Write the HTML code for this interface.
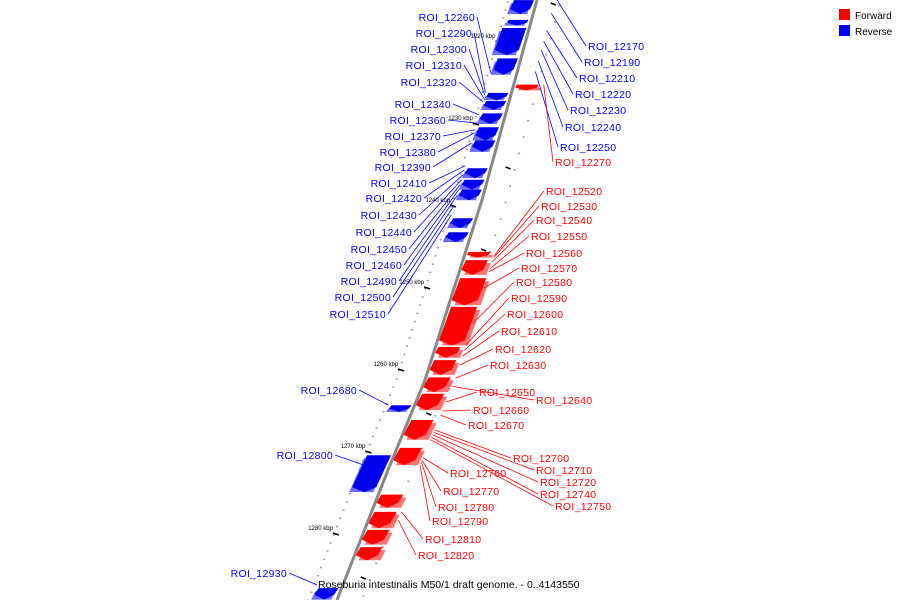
<!DOCTYPE html>
<html><head><meta charset="utf-8"><style>
html,body{margin:0;padding:0;background:#fff;}
svg{display:block;font-family:"Liberation Sans",sans-serif;}
</style></head><body>
<svg id="chart" width="900" height="600" viewBox="0 0 900 600">
<g id="ticks"></g>
<g id="feats"></g>
<polyline id="backbone" fill="none" stroke="#888" stroke-width="3"></polyline>
<g id="links"></g>
<g id="labels"></g>
<text x="318" y="588" font-size="10.5" fill="#000">Roseburia intestinalis M50/1 draft genome. - 0..4143550</text>
<g>
<rect x="839" y="9" width="11" height="11" fill="#f00"/>
<text x="855" y="19" font-size="10" fill="#000">Forward</text>
<rect x="839" y="25" width="11" height="11" fill="#00f"/>
<text x="855" y="35" font-size="10" fill="#000">Reverse</text>
</g>
</svg>
<script>
const tickKbp=[1220,1230,1240,1250,1260,1270,1280];
const featStart=[1214.9,1217.3,1218.3,1222.0,1226.2,1227.2,1228.7,1230.4,1232.0,1235.4,1236.8,1238.0,1241.5,1243.2,1264.3,1270.4,1286.6,
 1225.2,1245.6,1246.6,1248.8,1252.3,1257.2,1258.8,1260.9,1262.9,1266.1,1269.5,1275.2,1277.3,1279.5,1281.6];
const featEnd=[1216.6,1218.0,1221.6,1224.0,1227.1,1228.3,1230.0,1232.0,1233.4,1236.6,1238.0,1239.3,1242.7,1244.4,1265.1,1274.9,1288.0,
 1225.9,1246.3,1248.4,1252.1,1257.0,1258.5,1260.6,1262.7,1264.9,1268.5,1271.6,1276.8,1279.3,1281.3,1283.2];
const featStrand=[-1,-1,-1,-1,-1,-1,-1,-1,-1,-1,-1,-1,-1,-1,-1,-1,-1,
 1,1,1,1,1,1,1,1,1,1,1,1,1,1,1];
const labelNames=["ROI_12260","ROI_12290","ROI_12300","ROI_12310","ROI_12320","ROI_12340","ROI_12360","ROI_12370","ROI_12380","ROI_12390","ROI_12410","ROI_12420","ROI_12430","ROI_12440","ROI_12450","ROI_12460","ROI_12490","ROI_12500","ROI_12510","ROI_12680","ROI_12800","ROI_12930",
"ROI_12170","ROI_12190","ROI_12210","ROI_12220","ROI_12230","ROI_12240","ROI_12250","ROI_12270",
"ROI_12520","ROI_12530","ROI_12540","ROI_12550","ROI_12560","ROI_12570","ROI_12580","ROI_12590","ROI_12600","ROI_12610","ROI_12620","ROI_12630","ROI_12650","ROI_12640","ROI_12660","ROI_12670","ROI_12700","ROI_12710","ROI_12720","ROI_12740","ROI_12750","ROI_12760","ROI_12770","ROI_12780","ROI_12790","ROI_12810","ROI_12820"];
const labelKbp=[1223.8,1226.2,1226.5,1226.9,1227.3,1228.9,1229.9,1230.7,1231.1,1232.3,1235.1,1235.6,1236.2,1236.8,1237.4,1238.0,1238.7,1239.9,1241.1,1264.3,1271.6,1286.2,
1214.6,1216.5,1218.6,1219.9,1221.0,1222.3,1223.6,1225.2,
1246.0,1246.3,1246.8,1247.6,1248.0,1250.0,1254.3,1256.9,1257.6,1258.3,1259.4,1261.0,1263.9,1262.0,1265.0,1265.5,1267.3,1267.6,1267.9,1268.2,1268.5,1270.7,1271.0,1271.2,1271.6,1277.3,1278.3];
const labelSide=[-1,-1,-1,-1,-1,-1,-1,-1,-1,-1,-1,-1,-1,-1,-1,-1,-1,-1,-1,-1,-1,-1,
1,1,1,1,1,1,1,1,1,1,1,1,1,1,1,1,1,1,1,1,1,1,1,1,1,1,1,1,1,1,1,1,1,1,1];
const labelColor=["b","b","b","b","b","b","b","b","b","b","b","b","b","b","b","b","b","b","b","b","b","b",
"b","b","b","b","b","b","b","r","r","r","r","r","r","r","r","r","r","r","r","r","r","r","r","r","r","r","r","r","r","r","r","r","r","r","r"];
const LX=[475,472,467,462,457,451,446,441,436,431,427,422,417,412,407,402,397,391,386,357,333,287,
588,584,579,575,570,565,560,555,546,541,536,531,526,521,516,511,507,501,495,490,479,536,473,468,513,536,540,540,555,450,443,438,432,425,418];
const LY=[17,33,49,65,82,104,120,136,152,167,183,198,215,232,249,265,281,297,314,390,455,573,
46,62,78,94,110,127,147,162,191,206,220,236,253,268,282,298,314,331,349,365,392,400,410,425,458,470,482,494,506,473,491,507,521,539,555];

const NS="http://www.w3.org/2000/svg";
const bbPts=[[537,0],[482,200],[425,380],[388,470],[337,600]];
function bx(y){for(let i=0;i<bbPts.length-1;i++){const a=bbPts[i],b=bbPts[i+1];if(y<=b[1]||i==bbPts.length-2){const t=(y-a[1])/(b[1]-a[1]);return a[0]+t*(b[0]-a[0]);}}}
function ky(k){return 42+(k-1220)*8.2;}
function mk(tag,attrs,parent){const e=document.createElementNS(NS,tag);for(const k in attrs)e.setAttribute(k,attrs[k]);parent.appendChild(e);return e;}
document.getElementById('backbone').setAttribute('points',bbPts.map(p=>p.join(',')).join(' '));

const tg=document.getElementById('ticks');
for(let k=1215;k<=1288;k++){
  const y=ky(k);if(y<0||y>600)continue;
  const d1=mk('rect',{x:bx(y)-30,y:y,width:2,height:1.5,fill:'#999'},tg);
  
  
  if(k%2==1){const d2=mk('rect',{x:bx(y)+22,y:y+4,width:2,height:1.5,fill:'#999'},tg);
  
  }
  if(k%5==0 && k%10!=0){const d3=mk('line',{x1:bx(y)+14,y1:y+2,x2:bx(y)+19,y2:y+4,stroke:'#000','stroke-width':1.5},tg);
  
  }
}
tickKbp.forEach(k=>{
  const y=ky(k),x=bx(y);
  const l=mk('line',{x1:x-30,y1:y-1,x2:x-24,y2:y+1,stroke:'#000','stroke-width':1.5},tg);
  
  
  const t=mk('text',{x:x-30,y:y-4,'font-size':6,'text-anchor':'end',fill:'#000'},tg);
  
  
  t.textContent=k+' kbp';
});

const fg=document.getElementById('feats');
for(let i=0;i<featStart.length;i++){
  const y1=Math.max(-5,ky(featStart[i])),y2=ky(featEnd[i]),s=featStrand[i];
  const w=(s<0?20:22)+(featEnd[i]-featStart[i]>3?4:0);
  const g=3;
  const x1=bx(y1),x2=bx(y2);
  const main=s<0?'#0000f0':'#f00',side=s<0?'#6a6aff':'#ff7070';
  const ax1=x1+s*g,ax2=x2+s*g,bx1=x1+s*(g+w),bx2=x2+s*(g+w);
  const tip=Math.min(5,(y2-y1)/2);
  const sh=mk('polygon',{points:`${ax1+s*3},${y1+3} ${bx1+s*3},${y1+3} ${bx2+s*3},${y2} ${ax2+s*3},${y2}`,fill:side},fg);
  
  
  const p=mk('polygon',{points:`${ax1},${y1} ${bx1},${y1} ${bx2},${y2-tip} ${(ax2+bx2)/2},${y2} ${ax2},${y2-tip}`,fill:main},fg);
  
  
}

const lg=document.getElementById('links'),lbg=document.getElementById('labels');
for(let i=0;i<labelNames.length;i++){
  const col=labelColor[i]=='b'?'#00f':'#f00';
  const ty=ky(labelKbp[i]);
  const tx=bx(ty)+labelSide[i]*(labelColor[i]=='b'&&labelSide[i]>0?18:(labelSide[i]<0?26:30));
  const sx=labelSide[i]<0?LX[i]+2:LX[i]-2;
  const l=mk('line',{x1:sx,y1:LY[i],x2:tx,y2:ty,stroke:col,'stroke-width':0.8},lg);
  
  
  const t=mk('text',{x:LX[i],y:LY[i]+4,'font-size':10.5,fill:col,'text-anchor':labelSide[i]<0?'end':'start','letter-spacing':0.3},lbg);
  
  
  t.textContent=labelNames[i];
}
</script>
</body></html>
